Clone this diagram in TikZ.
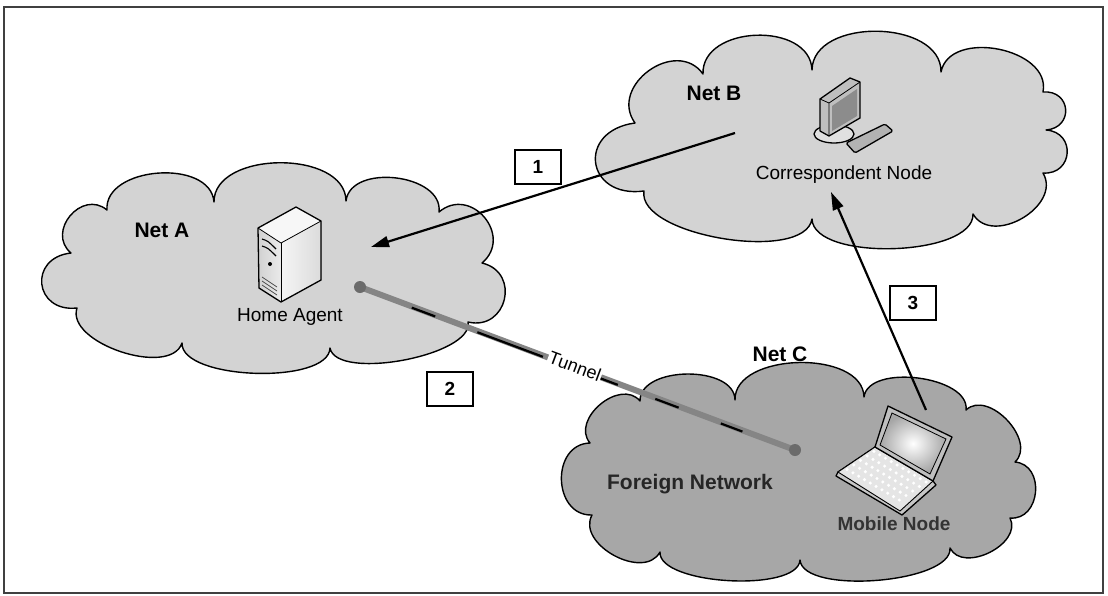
\documentclass[tikz,border=0pt]{standalone}
\usepackage{fontspec}
\setmainfont{Liberation Sans}
\usetikzlibrary{arrows.meta,calc}

\definecolor{cloudlight}{HTML}{D3D3D3}
\definecolor{clouddark}{HTML}{A7A7A7}
\definecolor{pipegray}{HTML}{858585}

\tikzset{
  pf/.style={bend left=90,looseness=#1},
  pf/.default=1,
  cloudline/.style={draw=black,line width=1.4pt,line join=round},
  netlabel/.style={font=\fontsize{21}{24}\selectfont\bfseries,inner sep=0pt},
  devlabel/.style={font=\fontsize{19}{22}\selectfont,inner sep=0pt},
  mobilelabel/.style={font=\fontsize{19}{22}\selectfont\bfseries,inner sep=0pt,text=black!80},
  stepnum/.style={draw=black,line width=1.3pt,fill=white,minimum width=46pt,
    minimum height=34pt,inner sep=0pt,font=\fontsize{19}{22}\selectfont\bfseries},
  flow/.style={line width=2.2pt,-{Triangle[length=18pt,width=11pt]}},
  iconline/.style={draw=black,line width=1.3pt,line join=round},
}

\begin{document}
\begin{tikzpicture}[x=1pt,y=-1pt]
\useasboundingbox (0,0) rectangle (1108,595);
\fill[white] (0,0) rectangle (1108,595);
\draw[black!75,line width=1.5pt] (4,7) rectangle (1103,593);

% ---------- Net A ----------
\draw[cloudline,fill=cloudlight]
  (107,210) to[pf=1.05] (214,202) to[pf=1.0] (346,201) to[pf=1.05] (439,212)
  to[pf=1.6] (482,263) to[pf=1.7] (468,322) to[pf=0.62] (330,348)
  to[pf=0.64] (182,343) to[pf=0.85] (77,308) to[pf=2.0] (71,253)
  to[pf=1.5] (107,210) -- cycle;

% ---------- Net B ----------
\draw[cloudline,fill=cloudlight]
  (635,123) to[pf=1.4] (703,74) to[pf=1.15] (812,70) to[pf=1.05] (941,72)
  to[pf=1.1] (1043,92) to[pf=1.9] (1046,130) to[pf=1.8] (1043,173)
  to[pf=1.2] (973,214) to[pf=0.68] (812,219) to[pf=0.68] (644,191)
  to[pf=2.2] (635,123) -- cycle;

% ---------- Net C ----------
\draw[cloudline,fill=clouddark]
  (640,401) to[pf=0.95] (735,400) to[pf=0.95] (864,397) to[pf=0.85] (966,410)
  to[pf=1.1] (1015,462) to[pf=1.4] (1010,518) to[pf=1.1] (950,548)
  to[pf=0.6] (800,560) to[pf=0.6] (660,552) to[pf=1.1] (592,515)
  to[pf=1.4] (590,443) to[pf=1.2] (640,401) -- cycle;

% ---------- labels of the networks ----------
\node[netlabel] (netA) at (162,230) {Net A};
\node[netlabel] (netB) at (714,93) {Net B};
\node[netlabel] (netC) at (780,354) {Net C};
\node[netlabel,text=black!85] (foreign) at (690,484) {Foreign Network};

% ---------- Home Agent server ----------
\begin{scope}
  \fill[left color=black!18,right color=black!8] (258,228) -- (281,243) -- (281,302) -- (259,288) -- cycle;
  \fill[left color=black!4,right color=black!14] (281,243) -- (321,221) -- (321,280) -- (281,302) -- cycle;
  \fill[black!3] (258,228) -- (296,207) -- (321,221) -- (281,243) -- cycle;
  \draw[iconline] (258,228) -- (296,207) -- (321,221) -- (321,280) -- (281,302) -- (259,288) -- cycle;
  \draw[black,line width=0.8pt] (258,228) -- (281,243) -- (321,221);
  \draw[black,line width=0.8pt] (281,243) -- (281,302);
  \draw[black,line width=1.1pt] (262,239) .. controls (268,241) .. (276,249);
  \draw[black,line width=1.1pt] (262,246) .. controls (268,248) .. (276,256);
  \fill[black] (270,264) circle (2pt);
  \draw[black!70,line width=0.8pt] (262,277) -- (277,287) (262,281) -- (277,291) (262,285) -- (277,295);
\end{scope}
\node[devlabel] (home) at (290,317) {Home Agent};

% ---------- Correspondent Node computer ----------
\begin{scope}
  \draw[iconline,fill=black!12] (834,134) ellipse (20pt and 9pt);
  \draw[iconline,fill=black!25] (820,99) -- (850,78) -- (860,82) -- (860,118) -- (829,136) -- (820,131) -- cycle;
  \draw[black,line width=0.8pt] (820,99) -- (829,103) -- (860,82) (829,103) -- (829,136);
  \fill[black!45] (832,106) -- (857,89) -- (857,116) -- (832,131) -- cycle;
  \draw[iconline,fill=black!30,rounded corners=1.5pt] (846,143) -- (885,124) -- (893,131) -- (855,153) -- cycle;
\end{scope}
\node[devlabel] (corr) at (844,175) {Correspondent Node};

% ---------- Mobile Node laptop ----------
\begin{scope}[shift={(0,4)}]
  \draw[iconline,fill=black!22,line join=round] (875,443) -- (933,477) -- (936,481) -- (902,511) -- (836,472) -- (838,468) -- cycle;
  \fill[black!10] (875,443) -- (933,477) -- (900,507) -- (838,468) -- cycle;
  \draw[black,line width=0.9pt] (875,443) -- (933,477) -- (900,507) -- (838,468) -- cycle;
  \foreach \i in {0,...,9}
    \foreach \j in {0,...,4}
      \fill[white] ({875+(\i+0.5)*5.8-(\j+0.6)*6.7},{443+(\i+0.5)*3.4+(\j+0.6)*4.5}) circle (1.7pt);
  \draw[iconline,fill=black!25] (888,402) -- (952,433) -- (933,477) -- (875,443) -- cycle;
  \shade[inner color=white,outer color=black!35] (892,409) -- (946,435) -- (930,470) -- (880,441) -- cycle;
  \draw[black,line width=0.8pt] (892,409) -- (946,435) -- (930,470) -- (880,441) -- cycle;
\end{scope}
\node[mobilelabel] (mobile) at (894,524) {Mobile Node};

% ---------- tunnel between the home agent and the foreign network ----------
\coordinate (tunA) at (360,287);
\coordinate (tunC) at (795,450);
\draw[pipegray,line width=6pt] (tunA) -- (tunC);
\draw[black,line width=2.2pt,dash pattern=on 25pt off 45pt on 70pt off 30pt on 50pt off 40pt,
  transform canvas={shift={(-0.4pt,-1.1pt)}}] ($(tunA)!0.12!(tunC)$) -- ($(tunA)!0.88!(tunC)$);
\fill[black!58] (tunA) circle (6pt);
\fill[black!58] (tunC) circle (6pt);
\node[devlabel,fill=white,inner sep=1pt,rotate=-20.5,font=\fontsize{18}{20}\selectfont] (tunnel) at (575,366) {Tunnel};

% ---------- message flow ----------
\coordinate (f1s) at (735,133);
\coordinate (f1e) at (371,247);
\coordinate (f3s) at (926,410);
\coordinate (f3e) at (831,192);
\draw[flow] (f1s) -- (f1e);
\draw[flow] (f3s) -- (f3e);

\node[stepnum] (s1) at (538,167) {1};
\node[stepnum] (s2) at (450,389) {2};
\node[stepnum] (s3) at (913,303) {3};

\end{tikzpicture}
\end{document}
